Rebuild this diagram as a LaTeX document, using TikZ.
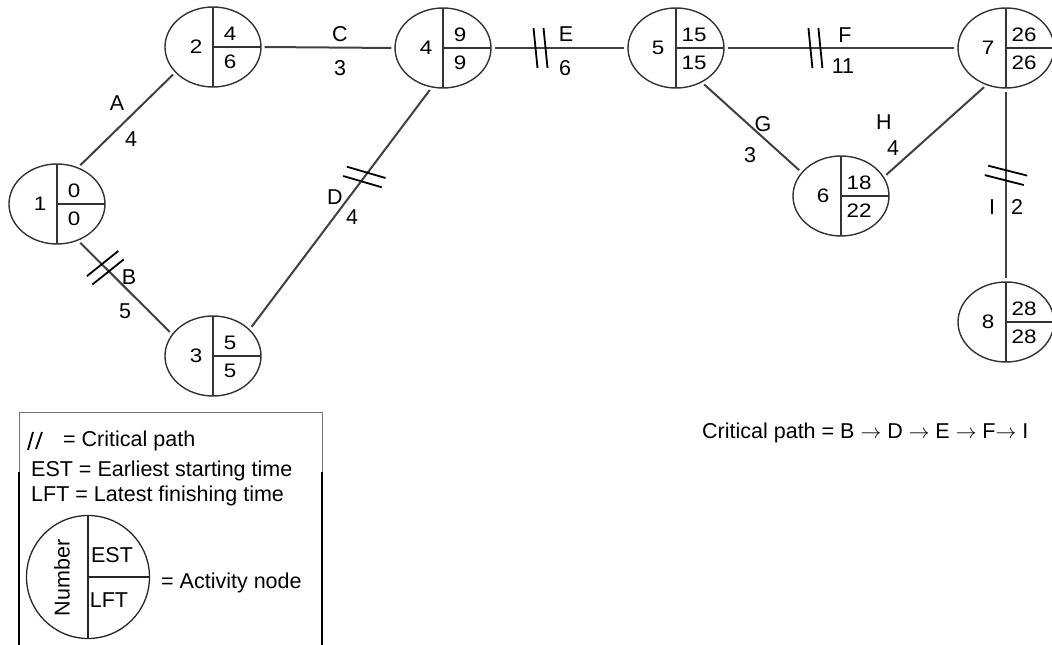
\documentclass[tikz,border=0pt]{standalone}
\usepackage{fontspec}
\setmainfont{Liberation Sans}
\newfontfamily\numfont[FakeStretch=1.15]{Liberation Sans}
\usepackage{tikz}
\usetikzlibrary{shapes.geometric}

\begin{document}
\begin{tikzpicture}[x=1pt,y=1pt,
  evt/.style={ellipse,draw=black!80,line width=1.4,minimum width=96,minimum height=80,inner sep=0,
    path picture={\draw[line width=2.6] (path picture bounding box.north)--(path picture bounding box.south)
      (path picture bounding box.center)--(path picture bounding box.east);}},
  key/.style={circle,draw=black!85,line width=1.3,minimum size=123,inner sep=0,
    path picture={\draw[line width=1.3] (path picture bounding box.north)--(path picture bounding box.south)
      (path picture bounding box.center)--(path picture bounding box.east);}},
  num/.style={font=\numfont\fontsize{19.5}{20}\selectfont,inner sep=0},
  lab/.style={font=\fontsize{21.5}{22}\selectfont,inner sep=0},
  edge/.style={draw=black!75,line width=2,shorten <=3,shorten >=3},
  crit/.pic={\draw[draw=black,line width=1.8,shorten <=0,shorten >=0] (-7,20)--(-3,-20) (3,20)--(7,-20);}]
  \useasboundingbox (0,0) rectangle (1052,645);
      \node[evt] (n1) at (57,441) {};
         \node[evt] (n2) at (213,598) {};
           \node[evt] (n3) at (213,289) {};
              \node[evt] (n4) at (443,597) {};
                 \node[evt] (n5) at (676,597) {};
                   \node[evt] (n6) at (841,449) {};
                \node[evt] (n7) at (1006,597) {};
             \node[evt] (n8) at (1006,323) {};
  % number, EST, LFT
  \node[num] (n1a) at (n1)[xshift=-17]{1};
  \node[num] (n1b) at (n1)[xshift=17,yshift=13]{0};
  \node[num] (n1c) at (n1)[xshift=17,yshift=-15]{0};
  \node[num] (n2a) at (n2)[xshift=-17]{2};
  \node[num] (n2b) at (n2)[xshift=17,yshift=13]{4};
  \node[num] (n2c) at (n2)[xshift=17,yshift=-15]{6};
  \node[num] (n3a) at (n3)[xshift=-17]{3};
  \node[num] (n3b) at (n3)[xshift=17,yshift=13]{5};
  \node[num] (n3c) at (n3)[xshift=17,yshift=-15]{5};
  \node[num] (n4a) at (n4)[xshift=-17]{4};
  \node[num] (n4b) at (n4)[xshift=17,yshift=13]{9};
  \node[num] (n4c) at (n4)[xshift=17,yshift=-15]{9};
  \node[num] (n5a) at (n5)[xshift=-18]{5};
  \node[num] (n5b) at (n5)[xshift=18,yshift=13]{15};
  \node[num] (n5c) at (n5)[xshift=18,yshift=-15]{15};
  \node[num] (n6a) at (n6)[xshift=-18]{6};
  \node[num] (n6b) at (n6)[xshift=18,yshift=13]{18};
  \node[num] (n6c) at (n6)[xshift=18,yshift=-15]{22};
  \node[num] (n7a) at (n7)[xshift=-18]{7};
  \node[num] (n7b) at (n7)[xshift=18,yshift=13]{26};
  \node[num] (n7c) at (n7)[xshift=18,yshift=-15]{26};
  \node[num] (n8a) at (n8)[xshift=-18]{8};
  \node[num] (n8b) at (n8)[xshift=18,yshift=13]{28};
  \node[num] (n8c) at (n8)[xshift=18,yshift=-15]{28};
  % activities
  \draw[edge] (n1.60)--(n2.214);
  \draw[edge] (n1.300)--(n3.152) pic[pos=.29,rotate=123]{crit};
  \draw[edge] (n2.east)--(n4.west);
  \draw[edge] (n3.36)--(n4.254) pic[pos=.63,rotate=68]{crit};
  \draw[edge] (n4.east)--(n5.west) pic[pos=.36]{crit};
  \draw[edge] (n5.east)--(n7.west) pic[pos=.39]{crit};
  \draw[edge] (n5.307)--(n6.149);
  \draw[edge] (n6.24)--(n7.242);
  \draw[edge] (n7.south)--(n8.north) pic[pos=.45,rotate=70]{crit};
  \node[lab] (lA) at (117,542){A};  \node[lab] (wA) at (131,506){4};
  \node[lab] (lB) at (129,368){B};  \node[lab] (wB) at (125,334){5};
  \node[lab] (lC) at (340,611){C};  \node[lab] (wC) at (340,577){3};
  \node[lab] (lD) at (335,448){D};  \node[lab] (wD) at (352,428){4};
  \node[lab] (lE) at (566,611){E};  \node[lab] (wE) at (565,577){6};
  \node[lab] (lF) at (845,610){F};  \node[lab] (wF) at (843,579){11};
  \node[lab] (lG) at (763,521){G};  \node[lab] (wG) at (750,490){3};
  \node[lab] (lH) at (884,523){H};  \node[lab] (wH) at (893,497){4};
  \node[lab] (lI) at (992,438){I};  \node[lab] (wI) at (1017,438){2};
  \node[lab,anchor=base west] (cpath) at (702,206)
    {Critical path = B $\rightarrow$ D $\rightarrow$ E $\rightarrow$ F$\rightarrow$ I};
  % key
  \draw[line width=1,draw=black!55] (19,173) |- (322,232) -- (322,173);
  \draw[line width=2] (19,173) -- (19,0) (322,173) -- (322,0);
  \draw[line width=1.8] (28,195) -- (33,213) (36,196) -- (42,213);
  \node[lab,anchor=base west] (kcp) at (63,198){= Critical path};
  \node[lab,anchor=base west] (kest) at (31,168){EST = Earliest starting time};
  \node[lab,anchor=base west] (klft) at (31,143){LFT = Latest finishing time};
  \node[key] (kn) at (88,68){};
  \node[lab,rotate=90] (knum) at (62,67){Number};
  \node[lab] (kE) at (112,90){EST};
  \node[lab] (kL) at (109,45){LFT};
  \node[lab,anchor=base west] (kact) at (161,56){= Activity node};
\end{tikzpicture}
\end{document}
